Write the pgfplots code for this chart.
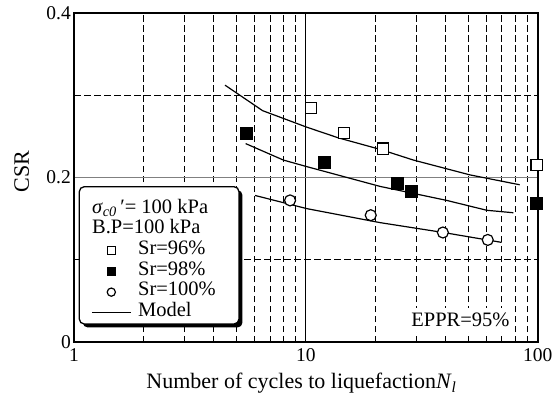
\documentclass[border=0pt]{standalone}
\usepackage{fontspec}
\setmainfont{Liberation Serif}
\usepackage{pgfplots}
\pgfplotsset{compat=1.18}
\usetikzlibrary{shadows}

\pgfplotsset{
  wide legend/.style={legend image code/.code={%
    \draw[mark repeat=2,mark phase=2,##1] plot coordinates {(0pt,0pt) (19.5pt,0pt) (39pt,0pt)};}},
}
\newcommand{\legfont}{\fontsize{20.5}{24}\selectfont}

\begin{document}
\begin{tikzpicture}
\begin{axis}[
  name=ax,
  scale only axis, width=463.7pt, height=329.3pt,
  xmode=log, xmin=1, xmax=100, ymin=0, ymax=0.4,
  xtick={1,10,100}, xticklabels={1,10,100},
  minor xtick={2,3,4,5,6,7,8,9,20,30,40,50,60,70,80,90},
  ytick={0,0.2,0.4}, yticklabels={0,0.2,0.4},
  minor ytick={0.1,0.3},
  grid=both,
  major x grid style={black, line width=0.8pt},
  minor x grid style={black, line width=0.8pt, dash pattern=on 6.5pt off 3.5pt},
  major y grid style={black!50, line width=0.8pt},
  minor y grid style={black, line width=0.8pt, dash pattern=on 6.5pt off 3.5pt},
  axis line style={line width=1.8pt},
  major tick length=0pt, minor tick length=0pt,
  tick label style={font=\fontsize{19.5}{22}\selectfont},
  xticklabel style={inner sep=0pt, yshift=-6pt},
  yticklabel style={inner sep=0pt, xshift=-3pt},
  xlabel={Number of cycles to liquefaction\textit{N}\textsubscript{\textit{l}}},
  ylabel={CSR},
  label style={font=\fontsize{22}{26}\selectfont},
  x label style={at={(axis description cs:0.4906,-0.1427)}, anchor=base},
  y label style={at={(axis description cs:-0.1128,0.517)}, anchor=center},
  clip=false,
  legend style={draw=none, fill=none,
    at={(axis description cs:0.0367,0.4349)}, anchor=north west,
    inner sep=0pt, row sep=0pt,
    font=\legfont,
    cells={anchor=west},
    nodes={inner sep=0pt, text height=14.2pt, text depth=6.5pt, font=\legfont},
    /tikz/every odd column/.append style={column sep=6.7pt}},
]

% model curves
\addplot[forget plot, black, line width=1.2pt, no marks] coordinates {
  (4.48,0.312) (6.51,0.281) (10.08,0.261) (13.8,0.248) (20.9,0.234)
  (29.1,0.221) (51,0.203) (83.6,0.191)};
\addplot[forget plot, black, line width=1.2pt, no marks] coordinates {
  (5.5,0.241) (8.0,0.221) (10.1,0.213) (20.9,0.189) (40.5,0.172)
  (60.3,0.160) (78.5,0.157)};
\addplot[forget plot, black, line width=1.2pt, no marks] coordinates {
  (6.04,0.178) (10.1,0.162) (20.9,0.145) (39.2,0.133) (69.9,0.121)};

% test conditions
\addlegendimage{empty legend}
\addlegendentry{\legfont\hspace*{-46pt}\textit{σ}\textsubscript{\textit{c0}}\,′= 100 kPa}
\addlegendimage{empty legend}
\addlegendentry{\legfont\hspace*{-46pt}B.P=100 kPa}

% Sr = 96 %
\addplot[only marks, mark=square*, mark size=5.6pt,
  mark options={fill=white, draw=black, line width=1.2pt},
  wide legend, legend image post style={mark size=4.1pt}] coordinates {
  (10.5,0.284) (14.6,0.254) (21.5,0.235) (99,0.215)};
\addlegendentry{\legfont Sr=96\%}

% Sr = 98 %
\addplot[only marks, mark=square*, mark size=6pt,
  mark options={fill=black, draw=black, line width=0.6pt},
  wide legend, legend image post style={mark size=4.2pt}] coordinates {
  (5.56,0.254) (12.0,0.218) (24.9,0.193) (28.4,0.183) (99,0.169)};
\addlegendentry{\legfont Sr=98\%}

% Sr = 100 %
\addplot[only marks, mark=*, mark size=5.5pt,
  mark options={fill=white, draw=black, line width=1.2pt},
  wide legend, legend image post style={mark size=4.1pt}] coordinates {
  (8.55,0.172) (19.05,0.154) (39.0,0.133) (60.9,0.124)};
\addlegendentry{\legfont Sr=100\%}

\addlegendimage{black, line width=1.2pt, wide legend}
\addlegendentry{\legfont Model}

% legend frame
\draw[line width=1.3pt, rounded corners=5pt, fill=white,
  drop shadow={shadow xshift=3.5pt, shadow yshift=-3.5pt, fill=black, opacity=1}]
  (axis description cs:0.0114,0.0547) rectangle (axis description cs:0.3558,0.4716);

\node[anchor=base east, fill=white, inner xsep=4pt, inner ysep=5pt,
  font=\legfont]
  at (axis description cs:0.9483,0.0465) {EPPR=95\%};
\end{axis}
\pgfresetboundingbox
\path (ax.south west) ++(-74pt,-57pt) rectangle ++(553pt,399pt);
\end{tikzpicture}
\end{document}
